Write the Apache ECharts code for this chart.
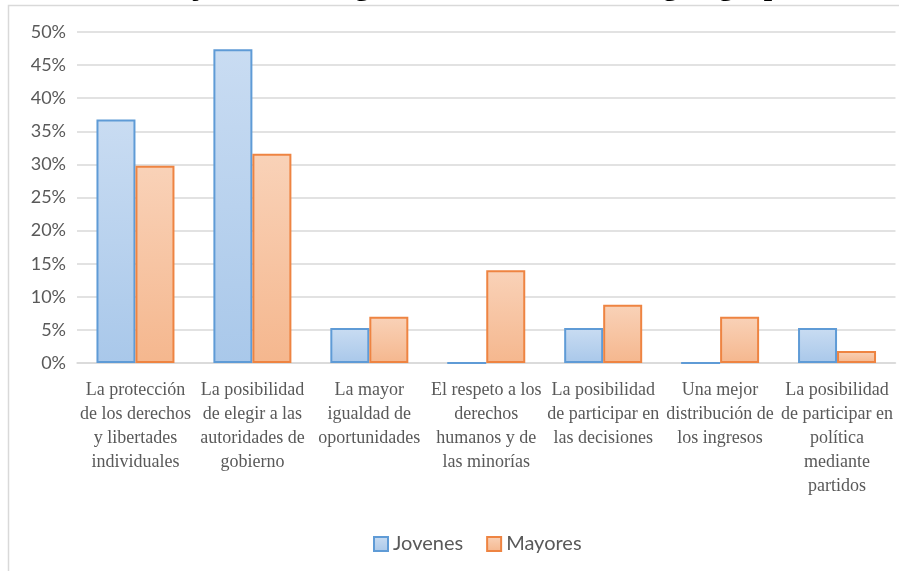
<!DOCTYPE html>
<html>
<head>
<meta charset="utf-8">
<style>
  html, body { margin: 0; padding: 0; background: #ffffff; }
  #chart { width: 899px; height: 571px; }
</style>
<script src="https://cdn.jsdelivr.net/npm/echarts@6/dist/echarts.min.js"></script>
</head>
<body>
<div id="chart"></div>
<script>
// Categories (x axis), one label per aspect of democracy
const categories = [
  'La protección\nde los derechos\ny libertades\nindividuales',
  'La posibilidad\nde elegir a las\nautoridades de\ngobierno',
  'La mayor\nigualdad de\noportunidades',
  'El respeto a los\nderechos\nhumanos y de\nlas minorías',
  'La posibilidad\nde participar en\nlas decisiones',
  'Una mejor\ndistribución de\nlos ingresos',
  'La posibilidad\nde participar en\npolítica\nmediante\npartidos'
];

// Share of respondents per group, in percent
const jovenes = [36.8, 47.4, 5.3, 0, 5.3, 0, 5.3];
const mayores = [29.8, 31.6, 7.0, 14.0, 8.8, 7.0, 1.8];

const seriesNames = ['Jovenes', 'Mayores'];
const titleText = 'Objetivo más logrado en democracia, según grupo';

// Y axis range
const yMin = 0, yMax = 50, yStep = 5;

const grey = '#595959';
const sansFont = 'Lato';
const serifFont = 'Liberation Serif';

function vgrad(top, bottom) {
  return new echarts.graphic.LinearGradient(0, 0, 0, 1, [
    { offset: 0, color: top },
    { offset: 1, color: bottom }
  ]);
}

const chart = echarts.init(document.getElementById('chart'), null, { renderer: 'canvas' });

chart.setOption({
  animation: false,
  backgroundColor: '#ffffff',
  // Title sits above the top edge of the canvas; a tall line box keeps it drawn
  title: {
    text: titleText,
    left: 153,
    top: -35,
    padding: 0,
    textStyle: {
      fontFamily: serifFont,
      fontWeight: 'bold',
      fontSize: 30,
      lineHeight: 44,
      color: '#000000'
    }
  },
  graphic: [
    {
      type: 'polyline',
      silent: true,
      shape: { points: [[8.5, 571], [8.5, 5.5], [899, 5.5]] },
      style: { stroke: '#d9d9d9', lineWidth: 1.5, fill: null }
    }
  ],
  legend: {
    data: seriesNames,
    left: 373,
    top: 534,
    padding: 0,
    itemWidth: 14,
    itemHeight: 14,
    itemGap: 23,
    icon: 'rect',
    textStyle: { fontFamily: sansFont, fontSize: 20, color: grey }
  },
  grid: {
    left: 77,
    right: 3.5,
    top: 32,
    bottom: 208,
    containLabel: false
  },
  xAxis: {
    type: 'category',
    data: categories,
    axisLine: { show: true, lineStyle: { color: '#d9d9d9', width: 1.5 } },
    axisTick: { show: false },
    axisLabel: {
      interval: 0,
      margin: 15,
      fontFamily: serifFont,
      fontSize: 18,
      lineHeight: 24,
      color: grey,
      align: 'center'
    }
  },
  yAxis: {
    type: 'value',
    min: yMin,
    max: yMax,
    interval: yStep,
    axisLine: { show: false },
    axisTick: { show: false },
    splitLine: { lineStyle: { color: '#d9d9d9', width: 1.5 } },
    axisLabel: {
      formatter: '{value}%',
      fontFamily: sansFont,
      fontSize: 18,
      color: grey,
      margin: 11
    }
  },
  series: [
    {
      name: seriesNames[0],
      type: 'bar',
      data: jovenes,
      barWidth: 39,
      barGap: '0%',
      itemStyle: {
        color: vgrad('#c9dcf2', '#a9c8ea'),
        borderColor: '#5f9bd6',
        borderWidth: 2
      }
    },
    {
      name: seriesNames[1],
      type: 'bar',
      data: mayores,
      barWidth: 39,
      barGap: '0%',
      itemStyle: {
        color: vgrad('#f9d2b8', '#f5b78e'),
        borderColor: '#ee8442',
        borderWidth: 2
      }
    }
  ]
});
</script>
</body>
</html>
